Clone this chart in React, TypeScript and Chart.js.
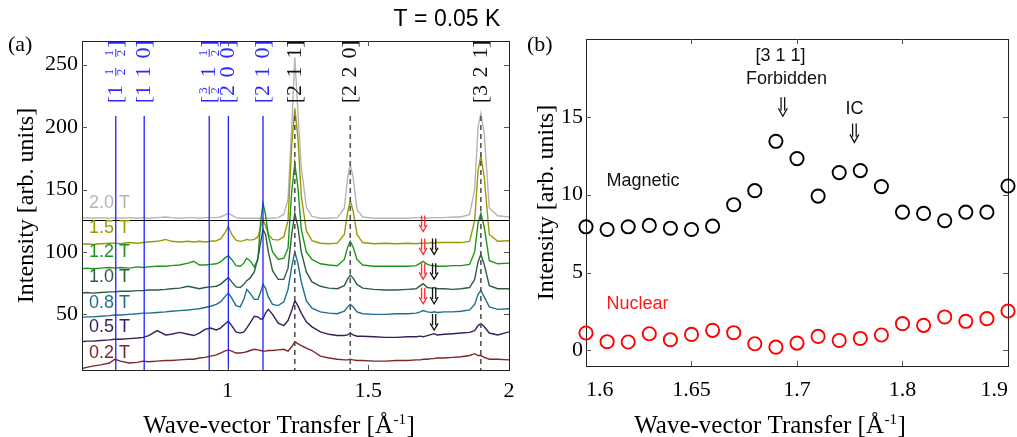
import React, { useEffect, useRef } from 'react';
import { Chart, registerables } from 'chart.js';

Chart.register(...registerables);

const SERIF = '"Liberation Serif", "Times New Roman", Times, serif';
const SANS = '"Liberation Sans", Arial, Helvetica, sans-serif';

// ---------------- Panel (a) data ----------------
const qA = [
  0.48, 0.50, 0.52, 0.55, 0.58, 0.60, 0.62, 0.65, 0.68, 0.70,
  0.72, 0.75, 0.78, 0.80, 0.83, 0.86, 0.88, 0.90, 0.92, 0.94,
  0.96, 0.975, 0.99, 1.003, 1.015, 1.03, 1.045, 1.058, 1.068, 1.08,
  1.095, 1.108, 1.118, 1.126, 1.135, 1.145, 1.16, 1.18, 1.20, 1.215,
  1.228, 1.239, 1.25, 1.262, 1.28, 1.30, 1.33, 1.36, 1.39, 1.415,
  1.427, 1.436, 1.446, 1.46, 1.48, 1.52, 1.56, 1.60, 1.64, 1.67,
  1.685, 1.695, 1.71, 1.725, 1.734, 1.745, 1.77, 1.80, 1.83, 1.86,
  1.878, 1.89, 1.900, 1.912, 1.93, 1.96, 2.00,
];

const int20T = [
  127, 127.5, 127, 127.5, 127, 127.5, 127, 127.5, 127, 127.5,
  127, 127.5, 128, 127.5, 127, 127.5, 127.5, 127, 127.5, 127.5,
  127.5, 128, 129.5, 131, 129.5, 127.5, 127, 127, 127, 127,
  127, 127, 127, 127, 127, 127, 127, 127.5, 130, 142,
  200, 256, 212, 168, 136, 128.5, 127, 127, 127.5, 135,
  160, 170, 160, 134, 128, 127, 127, 127, 127, 127.5,
  127.5, 127.5, 127, 127.5, 127.5, 127.5, 127.5, 128, 128, 130,
  150, 200, 211, 195, 135, 129, 128,
];

const int15T = [
  106, 106.5, 106, 106.5, 107, 107, 106.5, 107.5, 107, 107.5,
  108, 108.5, 110, 108.5, 108, 108.5, 108, 108.5, 108, 108.5,
  109, 110.5, 115, 120.5, 114, 109.5, 108.5, 109, 110, 109.5,
  110, 112, 120, 125.5, 121, 114, 110, 109.5, 112, 125,
  185, 215, 192, 145, 117, 109, 107, 106.5, 107, 114,
  132, 141, 133, 114, 107.5, 106.5, 107, 106.5, 107, 106.5,
  107, 107, 107, 107.5, 107, 107.5, 107.5, 107.5, 107.5, 108.5,
  125, 165, 177, 160, 114, 108.5, 109,
];

const int12T = [
  86.5, 87, 86.5, 87, 87.5, 87, 87.5, 87, 88, 87.5,
  88, 88.5, 88.5, 89, 89.5, 91, 92.5, 89.5, 89.5, 90,
  90.5, 92, 95, 97, 94, 89, 88.5, 91, 95, 93,
  88, 94, 125, 139, 130, 113, 100, 94, 95, 103,
  148, 171, 152, 118, 100, 94, 90.5, 89.5, 89, 94,
  104, 108.5, 104, 94, 89.5, 88.5, 88.5, 88.5, 88.5, 89,
  91, 92.5, 90, 89, 89, 88.5, 88.5, 89, 89, 90,
  100, 123, 131, 120, 93, 90.5, 91,
];

const int10T = [
  67, 67.5, 67, 67.5, 68, 68, 68.5, 68.5, 69, 69,
  69.5, 69.5, 70, 70.5, 71, 72.5, 71.5, 70.5, 71.5, 72,
  72.5, 74, 77, 79.5, 76, 72, 71.5, 74, 77, 79,
  84, 95, 108, 118, 114, 100, 85, 78, 78, 87,
  114, 131, 120, 100, 84, 76, 72.5, 71, 70.5, 73,
  78.5, 81.5, 79, 74, 71, 70, 69.5, 69.5, 70, 70.5,
  73, 74.5, 71.5, 71, 71.5, 70.5, 70.5, 70, 70.5, 71.5,
  78, 92, 98, 90, 73, 70.5, 70.5,
];

const int08T = [
  47.5, 48, 48, 48.5, 49, 49.5, 49.5, 50, 50.5, 51,
  51, 51.5, 52, 52.5, 53, 53.5, 54, 54.5, 55.5, 56.5,
  58, 60, 64, 67, 63, 57, 56, 62, 70, 67,
  62, 62, 68, 74, 71, 64, 58, 57, 60, 70,
  88, 100, 91, 76, 61, 55, 52, 51, 50.5, 52.5,
  56, 58, 56, 52, 50.5, 50, 50, 50.5, 50.5, 51,
  52, 53, 52, 51.5, 52, 51.5, 52, 52, 52.5, 53.5,
  58, 66, 69, 64, 56, 54, 54.5,
];

const int05T = [
  28, 28.5, 28.5, 29, 29.5, 30, 30, 30.5, 31, 31.5,
  33, 37, 33.5, 34, 35.5, 34, 33, 35, 38, 39,
  37.5, 39, 42, 44.5, 41, 36, 35, 36, 39, 43,
  48.5, 48, 46, 46.5, 51, 54, 50, 43, 41, 45,
  53, 61, 57, 51, 44, 40, 36, 34, 33, 33,
  33.5, 35, 33.5, 32.5, 32.5, 32, 31.5, 31.5, 32, 32,
  32.5, 32, 33, 34, 34.5, 33.5, 34, 34.5, 35, 35.5,
  37, 41, 42.5, 40, 35, 33.5, 36,
];

const int02T = [
  6.5, 7.5, 8.5, 9.5, 11, 14, 12.5, 11, 11.5, 12.5,
  12, 12.5, 13, 13, 13.5, 14, 14, 15, 15.5, 16.5,
  17.5, 19, 20.5, 21.5, 20.5, 19, 19, 19.5, 20, 21,
  22, 21.5, 21, 20.5, 20.5, 21, 21, 21.5, 22, 20.5,
  24, 28, 26.5, 25, 23, 21, 16.5, 15, 14, 13.5,
  13.5, 14, 13.5, 13, 13, 12.5, 12.5, 13, 13, 13.5,
  13.5, 14, 14, 14.5, 14.5, 15, 15, 15.5, 16, 17,
  18.5, 17, 17, 15.5, 14, 14, 13.5,
];

const fieldNames = ['2.0 T', '1.5 T', '1.2 T', '1.0 T', '0.8 T', '0.5 T', '0.2 T'];
const fieldLabelLevels = [139, 119, 100, 80, 59, 40, 19];

const peakQ = [0.603, 0.704, 0.935, 1.003, 1.126, 1.239, 1.436, 1.900];
const peakType = ['mag', 'mag', 'mag', 'mag', 'mag', 'nuc', 'nuc', 'nuc'];
type Tok = string | [string, string];
const peakIndex: Tok[][] = [
  ['1', ['1', '2'], ['1', '2']],
  ['1', '1', '0'],
  [['3', '2'], '1', ['1', '2']],
  ['2', '0', '0'],
  ['2', '1', '0'],
  ['2', '1', '1'],
  ['2', '2', '0'],
  ['3', '2', '1'],
];
const peakLineTop = 209;
const splitLevel = 125.4;

const redArrowQ = 1.695;
const redArrowLevels = [122.8, 104.4, 84.6, 64.9];
const blackArrowQ = 1.734;
const blackArrowLevels = [104.4, 84.6, 64.9, 43.8];

const xTicksA = [1, 1.5, 2];
const yTicksA = [50, 100, 150, 200, 250];

// ---------------- Panel (b) data ----------------
const qB = [
  1.60, 1.61, 1.62, 1.63, 1.64, 1.65, 1.66, 1.67, 1.68, 1.69, 1.70,
  1.71, 1.72, 1.73, 1.74, 1.75, 1.76, 1.77, 1.78, 1.79, 1.80,
];
const magnetic = [
  7.94, 7.77, 7.94, 8.03, 7.85, 7.77, 7.98, 9.36, 10.26, 13.43, 12.32,
  9.91, 11.42, 11.55, 10.52, 8.88, 8.80, 8.33, 8.88, 8.88, 10.56,
];
const nuclear = [
  1.12, 0.56, 0.54, 1.07, 0.69, 1.03, 1.29, 1.14, 0.43, 0.21, 0.47,
  0.90, 0.64, 0.77, 0.99, 1.72, 1.61, 2.15, 1.87, 2.04, 2.53,
];
const xTickPosB = [1.6, 1.65, 1.7, 1.75, 1.8];
const xTickLabelsB = ['1.6', '1.65', '1.7', '1.8', '1.9'];
const yTicksB = [0, 5, 10, 15];

const notesB = ['[3 1 1]', 'Forbidden', 'IC'];
const notesBQ = [1.6922, 1.695, 1.7272];
const notesBLevel = [18.9, 17.45, 15.52];
const arrowsBQ = [1.6933, 1.7272];
const arrowsBLevel = [15.65, 13.97];
const seriesNameQ = 1.6097;
const seriesNameLevel = [10.88, 2.96];

const traceColors = ['#b5b5b5', '#9a9a00', '#1c961c', '#2e5e3e', '#1e6f8c', '#3a1e58', '#7b2828'];

function drawDoubleArrow(ctx: CanvasRenderingContext2D, cx: number, cy: number, h: number, w: number, color: string) {
  const top = cy - h / 2;
  const bottom = cy + h / 2;
  const headTop = bottom - h * 0.42;
  const s = w * 0.2;
  ctx.save();
  ctx.strokeStyle = color;
  ctx.lineWidth = 1.3;
  ctx.lineJoin = 'miter';
  ctx.beginPath();
  ctx.moveTo(cx - s, top);
  ctx.lineTo(cx - s, headTop + h * 0.12);
  ctx.moveTo(cx + s, top);
  ctx.lineTo(cx + s, headTop + h * 0.12);
  ctx.moveTo(cx - w / 2, headTop);
  ctx.lineTo(cx, bottom);
  ctx.lineTo(cx + w / 2, headTop);
  ctx.stroke();
  ctx.restore();
}

function drawXTitle(ctx: CanvasRenderingContext2D, cx: number, baseline: number) {
  const main = 'Wave-vector Transfer [Å';
  const sup = '-1';
  const end = ']';
  ctx.font = `25px ${SERIF}`;
  const w1 = ctx.measureText(main).width;
  const w3 = ctx.measureText(end).width;
  ctx.font = `15px ${SERIF}`;
  const w2 = ctx.measureText(sup).width;
  const start = cx - (w1 + w2 + w3 + 1) / 2;
  ctx.textAlign = 'left';
  ctx.textBaseline = 'alphabetic';
  ctx.fillStyle = '#000';
  ctx.font = `25px ${SERIF}`;
  ctx.fillText(main, start, baseline);
  ctx.font = `15px ${SERIF}`;
  ctx.fillText(sup, start + w1 + 0.5, baseline - 9);
  ctx.font = `25px ${SERIF}`;
  ctx.fillText(end, start + w1 + w2 + 1, baseline);
}

function drawYTitle(ctx: CanvasRenderingContext2D, bx: number, cy: number) {
  ctx.save();
  ctx.translate(bx, cy);
  ctx.rotate(-Math.PI / 2);
  ctx.font = `24px ${SERIF}`;
  ctx.fillStyle = '#000';
  ctx.textAlign = 'center';
  ctx.textBaseline = 'alphabetic';
  ctx.fillText('Intensity [arb. units]', 0, 0);
  ctx.restore();
}

function drawFrame(ctx: CanvasRenderingContext2D, chart: any, xt: number[], yt: number[]) {
  const a = chart.chartArea;
  const { x, y } = chart.scales;
  ctx.save();
  ctx.strokeStyle = '#222';
  ctx.lineWidth = 1;
  ctx.setLineDash([]);
  ctx.strokeRect(Math.round(a.left) + 0.5, Math.round(a.top) + 0.5, Math.round(a.right - a.left), Math.round(a.bottom - a.top));
  ctx.strokeStyle = '#555';
  const tl = 5;
  xt.forEach((v) => {
    const px = Math.round(x.getPixelForValue(v)) + 0.5;
    if (px <= a.left + 1 || px >= a.right - 1) return;
    ctx.beginPath();
    ctx.moveTo(px, a.bottom); ctx.lineTo(px, a.bottom - tl);
    ctx.moveTo(px, a.top); ctx.lineTo(px, a.top + tl);
    ctx.stroke();
  });
  yt.forEach((v) => {
    const py = Math.round(y.getPixelForValue(v)) + 0.5;
    if (py <= a.top + 1 || py >= a.bottom - 1) return;
    ctx.beginPath();
    ctx.moveTo(a.left, py); ctx.lineTo(a.left + tl, py);
    ctx.moveTo(a.right, py); ctx.lineTo(a.right - tl, py);
    ctx.stroke();
  });
  ctx.restore();
}

const panelAPlugin = {
  id: 'panelA',
  afterDatasetsDraw(chart: any) {
    const { ctx, chartArea: a, scales } = chart;
    const { x, y } = scales;
    ctx.save();
    // reflection lines
    peakQ.forEach((q, i) => {
      const px = x.getPixelForValue(q);
      ctx.beginPath();
      if (peakType[i] === 'mag') {
        ctx.strokeStyle = '#2020ff';
        ctx.lineWidth = 1.3;
        ctx.setLineDash([]);
      } else {
        ctx.strokeStyle = '#555555';
        ctx.lineWidth = 1.6;
        ctx.setLineDash([5, 4]);
      }
      ctx.moveTo(px, y.getPixelForValue(peakLineTop));
      ctx.lineTo(px, a.bottom);
      ctx.stroke();
    });
    ctx.setLineDash([]);
    // horizontal separator
    const hy = Math.round(y.getPixelForValue(splitLevel)) + 0.5;
    ctx.strokeStyle = '#000';
    ctx.lineWidth = 1.2;
    ctx.beginPath();
    ctx.moveTo(a.left, hy);
    ctx.lineTo(a.right, hy);
    ctx.stroke();

    // Miller index labels (rotated)
    const slots = [90.5, 72, 53];
    peakQ.forEach((q, i) => {
      const px = x.getPixelForValue(q);
      const col = peakType[i] === 'mag' ? '#2a2aff' : '#111111';
      ctx.save();
      ctx.translate(px, 0);
      ctx.rotate(-Math.PI / 2);
      ctx.fillStyle = col;
      ctx.strokeStyle = col;
      ctx.textAlign = 'center';
      ctx.textBaseline = 'middle';
      ctx.font = `22px ${SERIF}`;
      ctx.fillText('[', -99.5, 0);
      ctx.fillText(']', -44, 0);
      peakIndex[i].forEach((tok, k) => {
        const lx = -slots[k];
        if (typeof tok === 'string') {
          ctx.font = `22px ${SERIF}`;
          ctx.fillText(tok, lx, 0);
        } else {
          ctx.font = `13px ${SERIF}`;
          ctx.fillText(tok[0], lx, -6);
          ctx.fillText(tok[1], lx, 6);
          ctx.lineWidth = 1;
          ctx.beginPath();
          ctx.moveTo(lx - 4, 0);
          ctx.lineTo(lx + 4, 0);
          ctx.stroke();
        }
      });
      ctx.restore();
    });

    // field labels
    ctx.font = `18px ${SANS}`;
    ctx.textAlign = 'left';
    ctx.textBaseline = 'middle';
    fieldNames.forEach((n, i) => {
      ctx.fillStyle = traceColors[i];
      ctx.fillText(n, a.left + 7, y.getPixelForValue(fieldLabelLevels[i]));
    });

    // arrows
    redArrowLevels.forEach((v) => drawDoubleArrow(ctx, x.getPixelForValue(redArrowQ), y.getPixelForValue(v), 16, 8, '#ff2a2a'));
    blackArrowLevels.forEach((v) => drawDoubleArrow(ctx, x.getPixelForValue(blackArrowQ), y.getPixelForValue(v), 16, 8, '#111'));

    ctx.restore();
    drawFrame(ctx, chart, xTicksA, yTicksA);

    ctx.save();
    drawYTitle(ctx, 33, (a.top + a.bottom) / 2);
    drawXTitle(ctx, 279, 433);
    ctx.fillStyle = '#000';
    ctx.font = `22px ${SERIF}`;
    ctx.textAlign = 'left';
    ctx.textBaseline = 'middle';
    ctx.fillText('(a)', 8, 45);
    ctx.font = `23px ${SANS}`;
    ctx.textAlign = 'center';
    ctx.fillText('T = 0.05 K', 447, 20);
    ctx.restore();
  },
};

const panelBPlugin = {
  id: 'panelB',
  beforeDatasetsDraw(chart: any) {
    drawFrame(chart.ctx, chart, xTickPosB, yTicksB);
  },
  afterDatasetsDraw(chart: any) {
    const { ctx, chartArea: a, scales } = chart;
    const { x, y } = scales;
    ctx.save();
    ctx.fillStyle = '#111';
    ctx.font = `18px ${SANS}`;
    ctx.textAlign = 'center';
    ctx.textBaseline = 'middle';
    notesB.forEach((t, i) => ctx.fillText(t, x.getPixelForValue(notesBQ[i]), y.getPixelForValue(notesBLevel[i])));
    arrowsBQ.forEach((q, i) => drawDoubleArrow(ctx, x.getPixelForValue(q), y.getPixelForValue(arrowsBLevel[i]), 19, 9, '#111'));
    ctx.font = `18px ${SANS}`;
    ctx.textAlign = 'left';
    ctx.textBaseline = 'middle';
    ctx.fillStyle = '#111';
    ctx.fillText('Magnetic', x.getPixelForValue(seriesNameQ), y.getPixelForValue(seriesNameLevel[0]));
    ctx.fillStyle = '#ff1a1a';
    ctx.fillText('Nuclear', x.getPixelForValue(seriesNameQ), y.getPixelForValue(seriesNameLevel[1]));
    drawYTitle(ctx, 33, (a.top + a.bottom) / 2);
    drawXTitle(ctx, 250, 433);
    ctx.fillStyle = '#000';
    ctx.font = `22px ${SERIF}`;
    ctx.textAlign = 'left';
    ctx.textBaseline = 'middle';
    ctx.fillText('(b)', 7, 45);
    ctx.restore();
  },
};

export default function App() {
  const refA = useRef<HTMLCanvasElement | null>(null);
  const refB = useRef<HTMLCanvasElement | null>(null);

  useEffect(() => {
    if (!refA.current || !refB.current) return;
    const traces = [int20T, int15T, int12T, int10T, int08T, int05T, int02T];
    const chartA = new Chart(refA.current, {
      type: 'line',
      data: {
        datasets: traces.map((vals, i) => ({
          label: fieldNames[i],
          data: qA.map((q, j) => ({ x: q, y: vals[j] })),
          borderColor: traceColors[i],
          borderWidth: 1.4,
          pointRadius: 0,
          tension: 0,
          fill: false,
          order: traces.length - i,
        })),
      },
      options: {
        animation: false,
        responsive: false,
        devicePixelRatio: 1,
        layout: { padding: { top: 41, right: 11, left: 0, bottom: 0 } },
        plugins: { legend: { display: false }, tooltip: { enabled: false }, title: { display: false } },
        scales: {
          x: {
            type: 'linear',
            min: 0.483,
            max: 2.0,
            grid: { display: false, drawTicks: false },
            border: { display: false },
            ticks: {
              font: { family: SERIF, size: 22 },
              color: '#000',
              padding: 8,
              maxRotation: 0,
              autoSkip: false,
              callback: (v: any) => String(v),
            },
            afterBuildTicks: (s: any) => { s.ticks = xTicksA.map((v) => ({ value: v })); },
            afterFit: (s: any) => { s.height = 67; s.paddingLeft = 0; s.paddingRight = 0; },
          },
          y: {
            type: 'linear',
            min: 5.4,
            max: 269,
            grid: { display: false, drawTicks: false },
            border: { display: false },
            ticks: {
              font: { family: SERIF, size: 22 },
              color: '#000',
              padding: 4,
              autoSkip: false,
              callback: (v: any) => String(v),
            },
            afterBuildTicks: (s: any) => { s.ticks = yTicksA.map((v) => ({ value: v })); },
            afterFit: (s: any) => { s.width = 82; s.paddingTop = 0; s.paddingBottom = 0; },
          },
        },
      },
      plugins: [panelAPlugin],
    } as any);

    const chartB = new Chart(refB.current, {
      type: 'scatter',
      data: {
        datasets: [
          {
            label: 'Magnetic',
            data: qB.map((q, j) => ({ x: q, y: magnetic[j] })),
            borderColor: '#000',
            backgroundColor: 'rgba(0,0,0,0)',
            pointRadius: 6.6,
            pointBorderWidth: 1.9,
            showLine: false,
            clip: false,
          },
          {
            label: 'Nuclear',
            data: qB.map((q, j) => ({ x: q, y: nuclear[j] })),
            borderColor: '#ff0000',
            backgroundColor: 'rgba(0,0,0,0)',
            pointRadius: 6.6,
            pointBorderWidth: 1.9,
            showLine: false,
            clip: false,
          },
        ],
      },
      options: {
        animation: false,
        responsive: false,
        devicePixelRatio: 1,
        layout: { padding: { top: 39, right: 9, left: 0, bottom: 0 } },
        plugins: { legend: { display: false }, tooltip: { enabled: false }, title: { display: false } },
        scales: {
          x: {
            type: 'linear',
            min: 1.6,
            max: 1.8,
            grid: { display: false, drawTicks: false },
            border: { display: false },
            ticks: {
              font: { family: SERIF, size: 22 },
              color: '#000',
              padding: 11,
              maxRotation: 0,
              autoSkip: false,
              align: 'inner',
              callback: (_v: any, i: number) => xTickLabelsB[i],
            },
            afterBuildTicks: (s: any) => { s.ticks = xTickPosB.map((v) => ({ value: v })); },
            afterFit: (s: any) => { s.height = 71; s.paddingLeft = 0; s.paddingRight = 0; },
          },
          y: {
            type: 'linear',
            min: -1,
            max: 20,
            grid: { display: false, drawTicks: false },
            border: { display: false },
            ticks: {
              font: { family: SERIF, size: 22 },
              color: '#000',
              padding: 3,
              autoSkip: false,
              callback: (v: any) => String(v),
            },
            afterBuildTicks: (s: any) => { s.ticks = yTicksB.map((v) => ({ value: v })); },
            afterFit: (s: any) => { s.width = 66; s.paddingTop = 0; s.paddingBottom = 0; },
          },
        },
      },
      plugins: [panelBPlugin],
    } as any);

    return () => {
      chartA.destroy();
      chartB.destroy();
    };
  }, []);

  return (
    <div style={{ position: 'fixed', left: 0, top: 0, width: 1017, height: 437, background: '#fff' }}>
      <canvas ref={refA} width={520} height={437} style={{ position: 'absolute', left: 0, top: 0, width: 520, height: 437 }} />
      <canvas ref={refB} width={497} height={437} style={{ position: 'absolute', left: 520, top: 0, width: 497, height: 437 }} />
    </div>
  );
}
